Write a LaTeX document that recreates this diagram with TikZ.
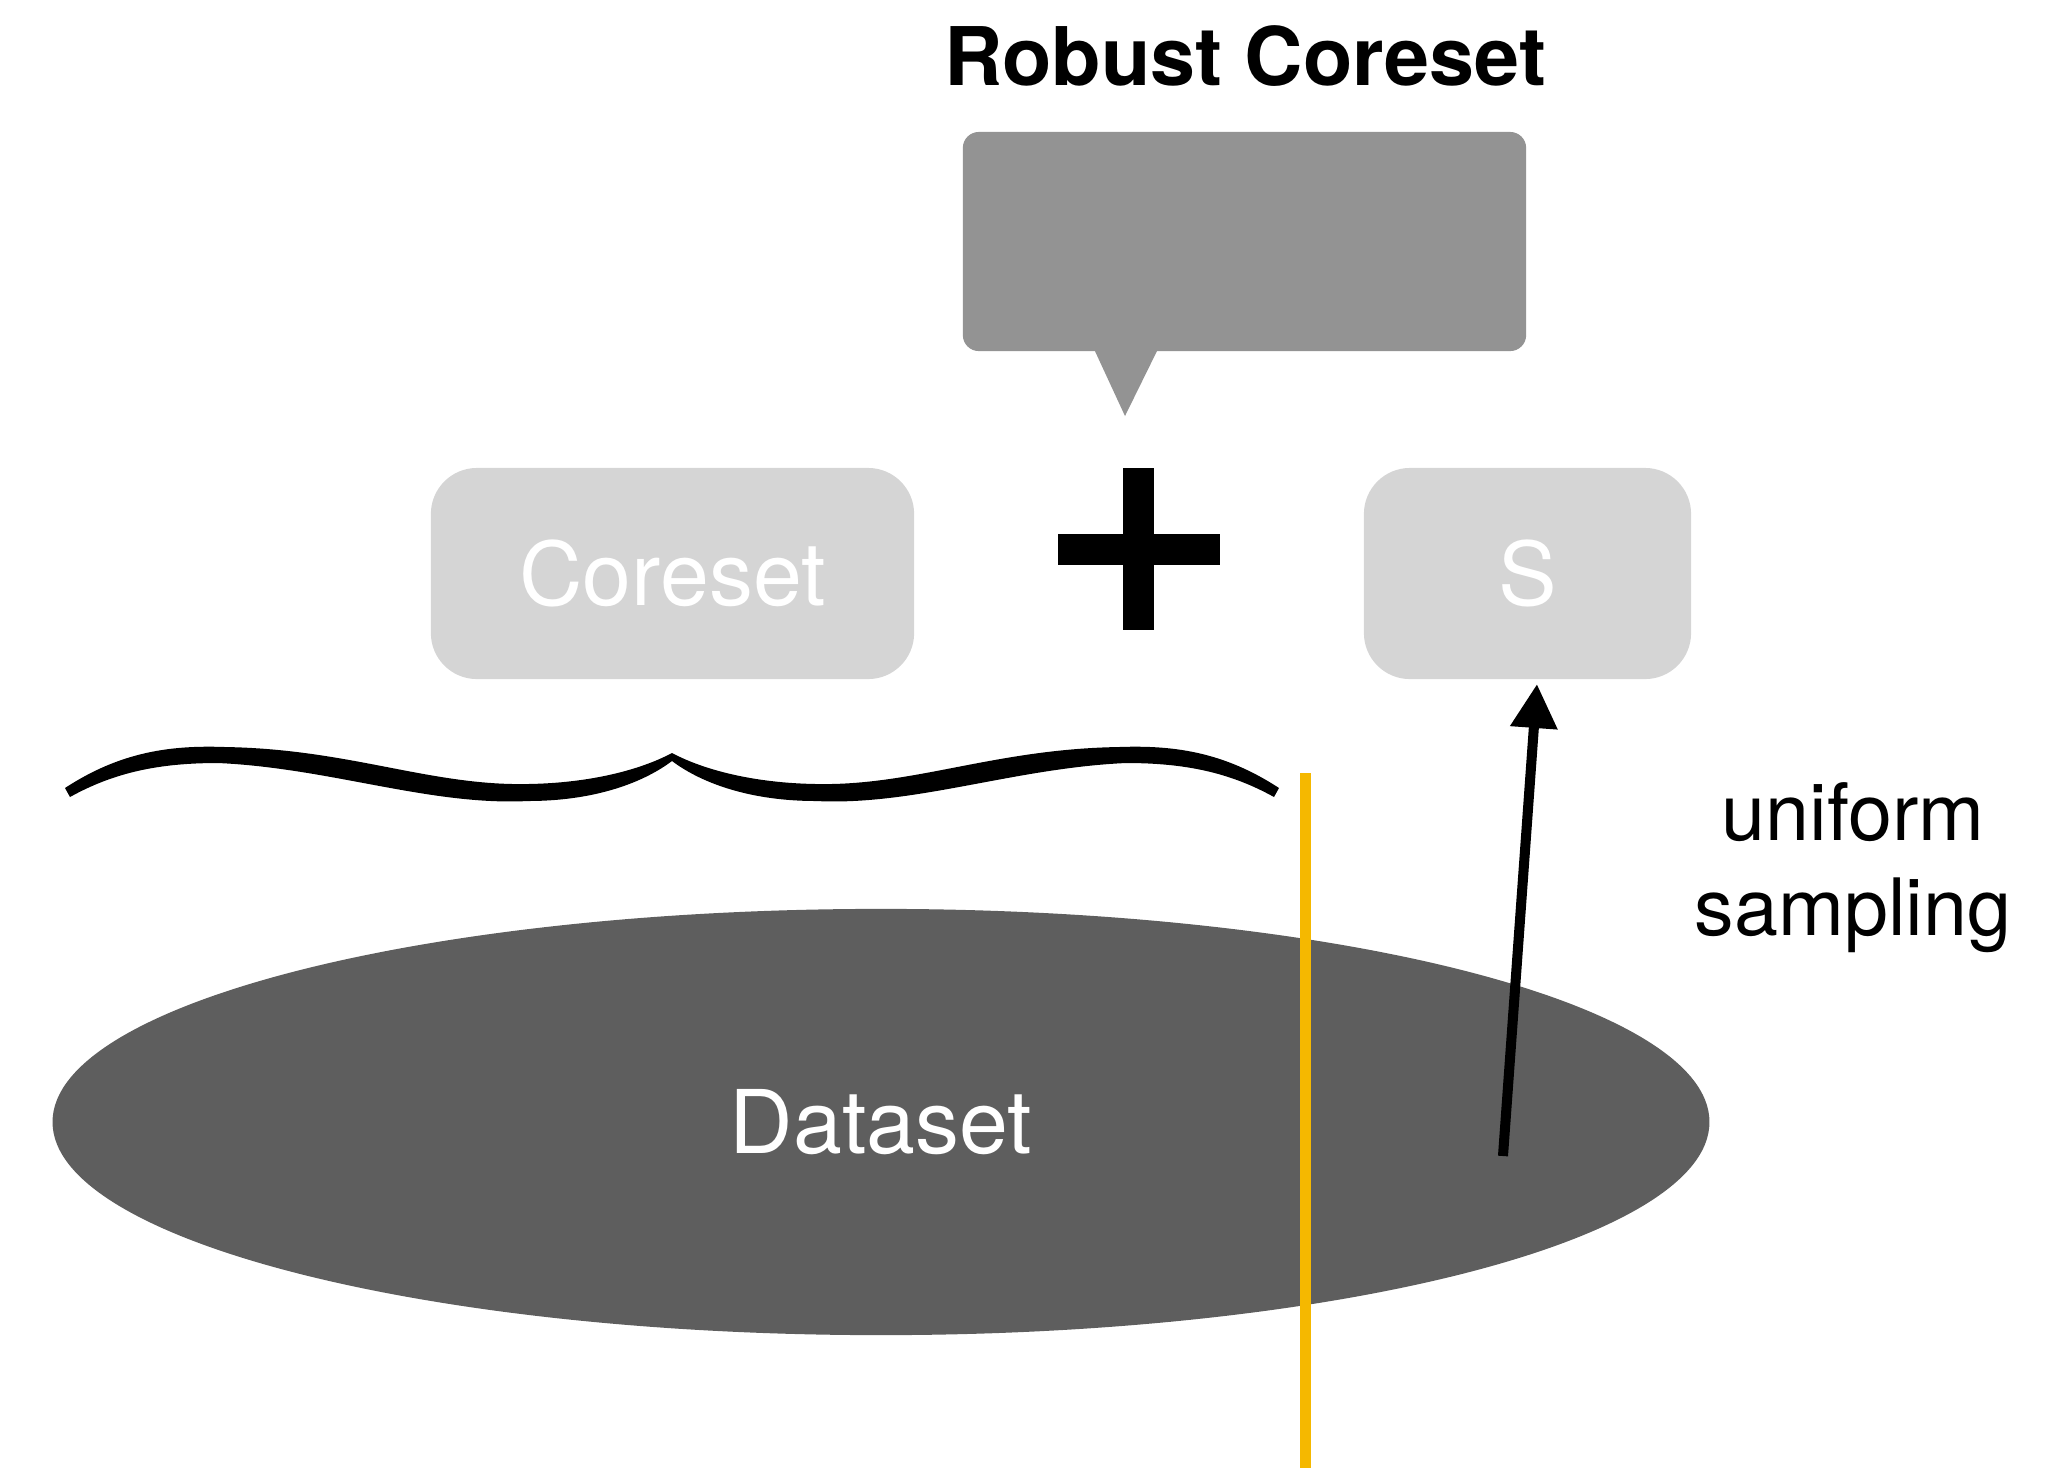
\documentclass[tikz,border=0pt]{standalone}
\usepackage{fontspec}
\setmainfont{TeX Gyre Heros}
\usetikzlibrary{shapes.geometric,arrows.meta}
\definecolor{calloutgray}{HTML}{939393}
\definecolor{boxgray}{HTML}{D5D5D5}
\definecolor{datagray}{HTML}{5E5E5E}
\definecolor{splityellow}{HTML}{F5B800}
\begin{document}
\begin{tikzpicture}[x=0.01cm,y=-0.01cm,
  lightbox/.style={fill=boxgray, rounded corners=0.46cm, inner sep=0pt, text=white,
    font=\fontsize{25}{30}\selectfont},
  calloutbox/.style={fill=calloutgray, rounded corners=0.16cm, inner sep=0pt},
  titletext/.style={font=\fontsize{23}{28}\selectfont\bfseries, inner sep=0pt},
  datasetshape/.style={ellipse, fill=datagray, inner sep=0pt, text=white,
    font=\fontsize{25}{30}\selectfont},
  labeltext/.style={font=\fontsize{22.5}{27}\selectfont, inner sep=0pt},
  splitline/.style={draw=splityellow, line width=3.13pt},
  samparrow/.style={line width=2.85pt, -{Triangle[length=12.5pt,width=12.8pt]}}
]
\useasboundingbox (0,0) rectangle (2071,1468);

% title and callout
\node[titletext, anchor=base] (title) at (1245,85) {Robust Coreset};
\node[calloutbox, minimum width=5.63cm, minimum height=2.19cm] (callout) at (1244.5,241.5) {};
\fill[calloutgray] (1094,349) -- (1125,416) -- (1158,349) -- cycle;

% boxes
\node[lightbox, minimum width=4.83cm, minimum height=2.11cm] (coreset) at (672.5,573.5) {Coreset};
\node[lightbox, minimum width=3.27cm, minimum height=2.11cm] (sbox) at (1527.5,573.5) {S};

% plus sign
\fill (1123,468) rectangle (1154,630);
\fill (1058,534) rectangle (1220,565);

% brace
\fill (65,788) .. controls (120,752) and (170,745) .. (225,747)
  .. controls (350,749) and (430,786) .. (528,784)
  .. controls (590,783) and (640,770) .. (672,753)
  .. controls (704,770) and (754,783) .. (816,784)
  .. controls (914,786) and (994,749) .. (1119,747)
  .. controls (1174,745) and (1224,752) .. (1279,788)
  -- (1274,797)
  .. controls (1229,772) and (1184,763) .. (1126,763)
  .. controls (1014,768) and (914,806) .. (816,801)
  .. controls (754,801) and (704,785) .. (672,761)
  .. controls (640,785) and (590,801) .. (528,801)
  .. controls (430,806) and (330,768) .. (218,763)
  .. controls (160,763) and (115,772) .. (70,797) -- cycle;

% dataset
\node[datasetshape, minimum width=16.56cm, minimum height=4.26cm] (dataset) at (881,1122) {Dataset};

% yellow split line
\coordinate (splittop) at (1305.5,773);
\coordinate (splitbottom) at (1305.5,1468);
\draw[splitline] (splittop) -- (splitbottom);

% sampling arrow
\coordinate (sfrom) at (1503,1156);
\coordinate (stip) at (1537,684);
\draw[samparrow] (sfrom) -- (stip);

\node[labeltext, anchor=base] (samp1) at (1853,840) {uniform};
\node[labeltext, anchor=base] (samp2) at (1853,935) {sampling};
\end{tikzpicture}
\end{document}
